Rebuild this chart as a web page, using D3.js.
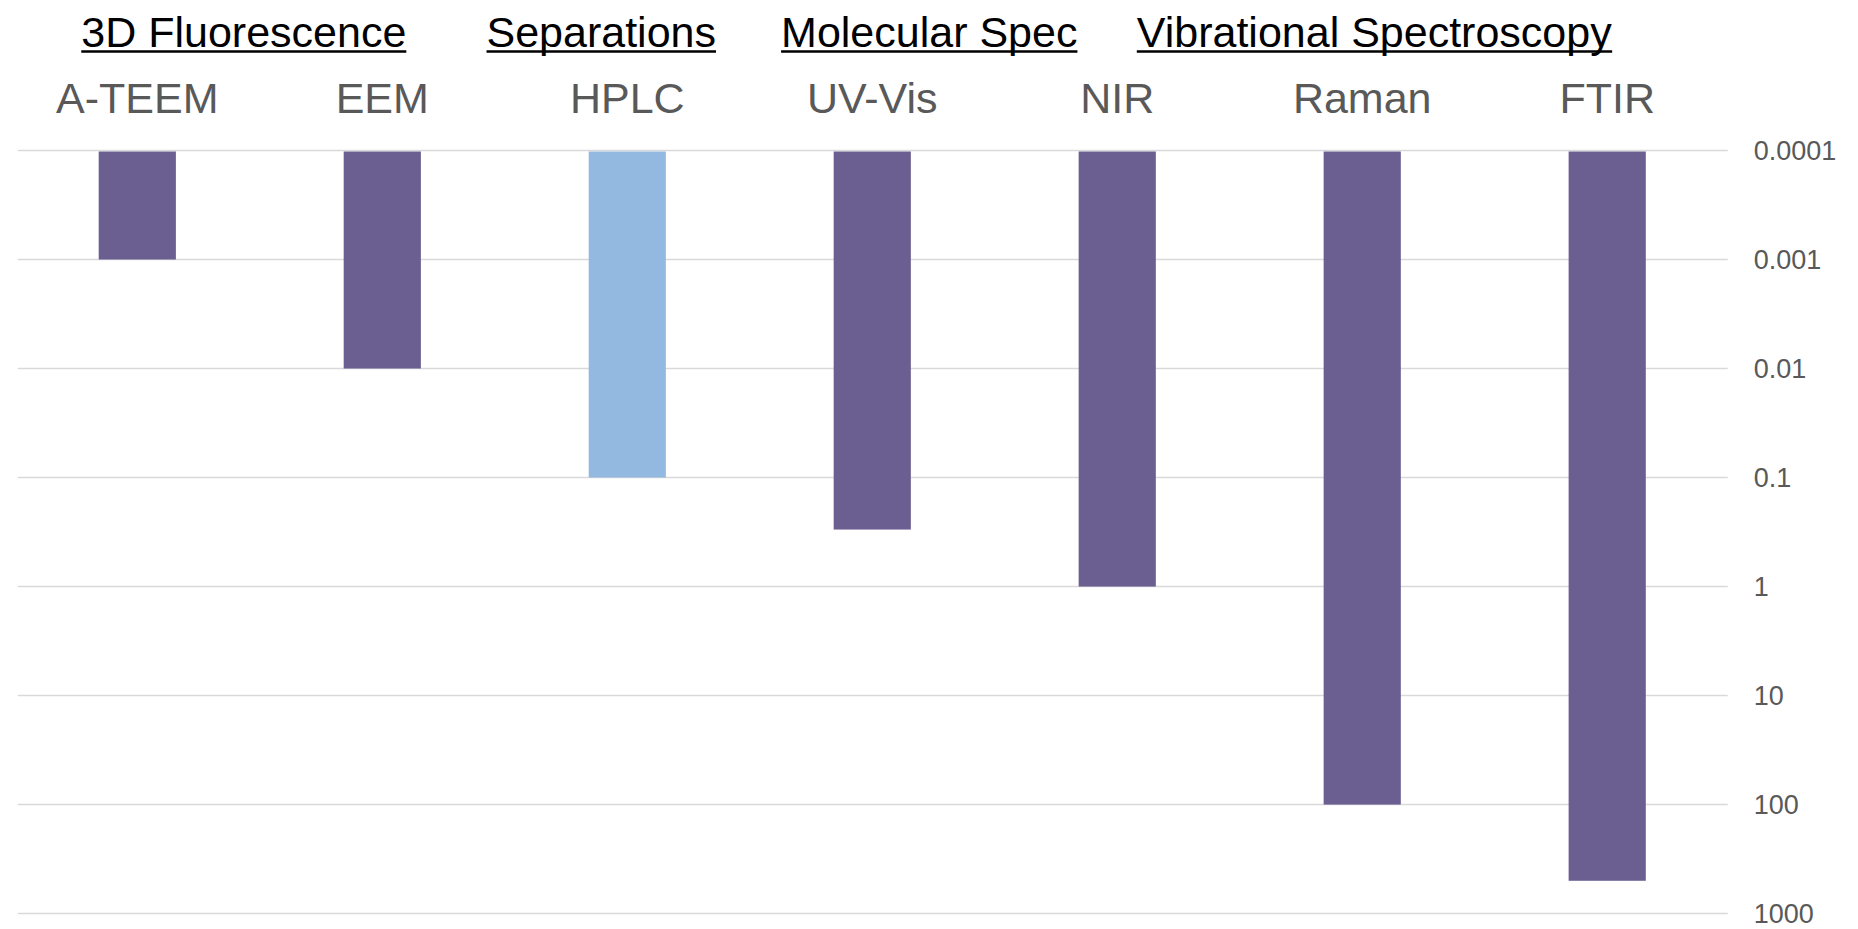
<!DOCTYPE html>
<html>
  <head>
    <meta charset="utf-8">
    <title>Detection limits by technique</title>
    <script src="https://cdn.jsdelivr.net/npm/d3@7"></script>
    <style>
      body { margin: 0; background: #fff; }
      svg { display: block; font-family: "Liberation Sans", Arial, sans-serif; }
      .grid line { stroke: #d9d9d9; stroke-width: 1.5; }
      .tick-label { fill: #595959; font-size: 27px; }
      .cat-label { fill: #595959; font-size: 43px; }
      .group-label { fill: #000; font-size: 43px; }
    </style>
  </head>
  <body>
    <svg id="chart"></svg>
    <script>
      // data
      var categories = ["A-TEEM", "EEM", "HPLC", "UV-Vis", "NIR", "Raman", "FTIR"];
      var values = [0.001, 0.01, 0.1, 0.3, 1, 100, 500];
      var barKind = ["spec", "spec", "sep", "spec", "spec", "spec", "spec"];
      var groupNames = ["3D Fluorescence", "Separations", "Molecular Spec", "Vibrational Spectroscopy"];
      var groupFrom = [0, 2, 3, 4];
      var groupTo = [1, 2, 3, 6];
      var tickValues = [0.0001, 0.001, 0.01, 0.1, 1, 10, 100, 1000];
      var tickLabels = ["0.0001", "0.001", "0.01", "0.1", "1", "10", "100", "1000"];

      var width = 1858, height = 929;
      var margin = { top: 150.5, bottom: 15.4, left: 17.8, right: 130.3 };
      var colours = { spec: "#6b5e91", sep: "#93b9e1" };
      // small nudges so the group titles don't collide
      var groupNudge = [-16, -26, 57, 12];

      var svg = d3.select("#chart")
        .attr("width", width)
        .attr("height", height);

      var x = d3.scaleBand()
        .domain(categories)
        .range([margin.left - 3, width - margin.right + 2])
        .paddingInner(0.685)
        .paddingOuter(0.3425);

      var y = d3.scaleLog()
        .domain([0.0001, 1000])
        .range([margin.top, height - margin.bottom]);

      // gridlines
      svg.append("g")
        .attr("class", "grid")
        .selectAll("line")
          .data(tickValues)
        .enter().append("line")
          .attr("x1", margin.left)
          .attr("x2", width - margin.right)
          .attr("y1", function(d) { return y(d); })
          .attr("y2", function(d) { return y(d); });

      // tick labels on the right
      svg.append("g")
        .selectAll("text")
          .data(tickValues)
        .enter().append("text")
          .attr("class", "tick-label")
          .attr("x", width - margin.right + 26)
          .attr("y", function(d) { return y(d); })
          .attr("dy", "0.35em")
          .text(function(d, i) { return tickLabels[i]; });

      // bars hang down from the top of the axis
      svg.append("g")
        .selectAll("rect")
          .data(values)
        .enter().append("rect")
          .attr("x", function(d, i) { return x(categories[i]); })
          .attr("width", x.bandwidth())
          .attr("y", y(0.0001) + 1)
          .attr("height", function(d) { return y(d) - y(0.0001) - 1; })
          .attr("fill", function(d, i) { return colours[barKind[i]]; });

      // category labels
      svg.append("g")
        .selectAll("text")
          .data(categories)
        .enter().append("text")
          .attr("class", "cat-label")
          .attr("x", function(d) { return x(d) + x.bandwidth() / 2; })
          .attr("y", 113)
          .attr("text-anchor", "middle")
          .text(function(d) { return d; });

      // group titles, underlined
      var groups = svg.append("g")
        .selectAll("g")
          .data(groupNames)
        .enter().append("g");
      groups.append("text")
        .attr("class", "group-label")
        .attr("x", function(d, i) {
          var a = x(categories[groupFrom[i]]), b = x(categories[groupTo[i]]);
          return (a + b) / 2 + x.bandwidth() / 2 + groupNudge[i];
        })
        .attr("y", 47)
        .attr("text-anchor", "middle")
        .text(function(d) { return d; });
      groups.each(function() {
        var g = d3.select(this);
        var box = g.select("text").node().getBBox();
        g.append("line")
          .attr("x1", box.x)
          .attr("x2", box.x + box.width)
          .attr("y1", 51.5)
          .attr("y2", 51.5)
          .attr("stroke", "#000")
          .attr("stroke-width", 2.5);
      });
    </script>
  </body>
</html>
